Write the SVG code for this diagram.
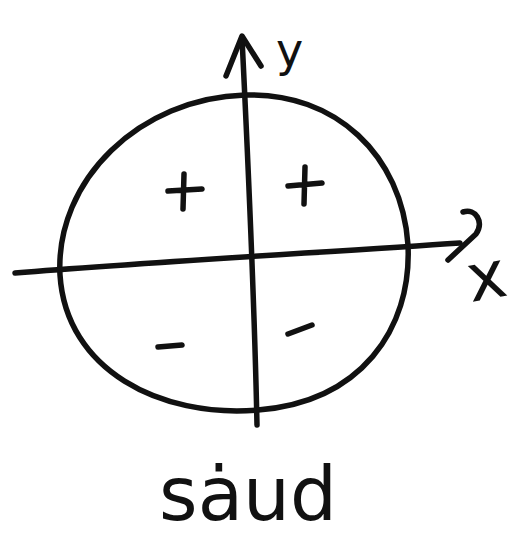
<svg xmlns="http://www.w3.org/2000/svg" width="529" height="545" viewBox="0 0 529 545">
<style>
.s{fill:none;stroke:#111;stroke-width:5.5;stroke-linecap:round;stroke-linejoin:round}
.t{font-family:"DejaVu Sans","Liberation Sans",sans-serif;fill:#111}
</style>
<rect width="529" height="545" fill="#fff"/>
<g id="circle">
<path class="s" d="M245,95 C335,92 402,155 408,245 C412,330 360,402 258,410 C160,418 66,370 60,275 C55,180 140,98 245,95 Z"/>
</g>
<g id="connectors">
<path class="s" d="M257,425 C255,330 250,200 242,38"/>
<path class="s" d="M226,76 L242,36 L261,66"/>
<path class="s" d="M15,273 C150,262 330,252 460,243"/>
<path class="s" d="M463,212 C476,208 484,222 476,234 L448,260"/>
</g>
<g id="signs">
<path class="s" d="M168,191 L202,189 M184,174 L183,209"/>
<path class="s" d="M288,186 L322,183 M305,167 L304,204"/>
<path class="s" d="M158,347 L182,345"/>
<path class="s" d="M288,334 L312,325"/>
</g>
<g id="labels">
<text class="t" x="276" y="66" font-size="46">y</text>
<text class="t" x="466" y="298" font-size="66" transform="rotate(-10 492 272)">x</text>
<text class="t" x="248" y="520" font-size="74" text-anchor="middle">sȧud</text>
</g>
</svg>
